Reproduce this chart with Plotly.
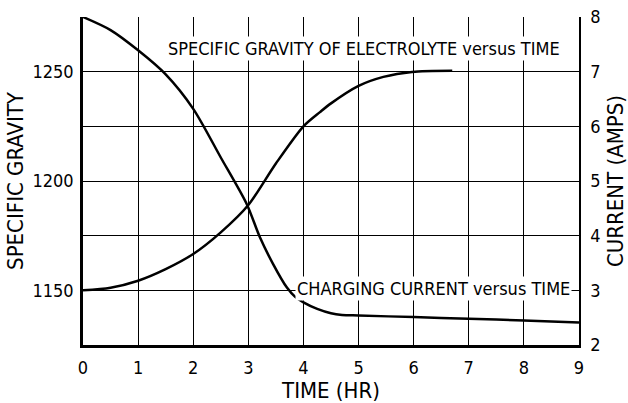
import plotly.graph_objects as go

# Specific gravity of electrolyte (left axis)
time_sg = [0, 0.5, 1, 1.5, 2, 2.5, 3, 3.5, 4, 4.3, 4.5, 5, 5.45, 5.97, 6.7]
specific_gravity = [1150, 1151.2, 1154.4, 1159.7, 1166.6, 1176.5, 1189, 1208, 1225, 1231.5, 1235.5, 1243.5, 1247.6, 1249.9, 1250.4]

# Charging current (right axis)
time_cur = [0, 0.5, 1, 1.5, 2, 2.5, 2.97, 3.21, 3.45, 3.7, 3.85, 4, 4.25, 4.5, 4.7, 5, 6, 7, 8, 9]
current = [8, 7.76, 7.39, 6.95, 6.32, 5.43, 4.58, 3.97, 3.48, 3.05, 2.88, 2.78, 2.66, 2.58, 2.55, 2.54, 2.51, 2.48, 2.45, 2.41]

x_ticks = list(range(0, 10))
sg_ticks = [1150, 1200, 1250]
cur_ticks = [2, 3, 4, 5, 6, 7, 8]

FONT = "Liberation Sans Narrow, Arial Narrow, DejaVu Sans Condensed, sans-serif"

fig = go.Figure()
fig.add_trace(go.Scatter(x=time_sg, y=specific_gravity, mode="lines",
                         line=dict(color="black", width=2.5, shape="spline", smoothing=0.8),
                         yaxis="y", showlegend=False))
fig.add_trace(go.Scatter(x=time_cur, y=current, mode="lines",
                         line=dict(color="black", width=2.5, shape="spline", smoothing=0.8),
                         yaxis="y2", showlegend=False))

fig.update_layout(
    width=628, height=403,
    margin=dict(l=83, r=49, t=17, b=58, autoexpand=False),
    paper_bgcolor="white", plot_bgcolor="white",
    font=dict(family=FONT, size=18, color="black"),
    xaxis=dict(range=[0, 9], tickvals=x_ticks, showgrid=True, gridcolor="black", gridwidth=1.3,
               showline=True, linecolor="black", linewidth=2.5, ticks="", zeroline=False,
               automargin=True, ticklabelstandoff=5, ticklabeloverflow="allow",
               title=dict(text="TIME (HR)", standoff=8)),
    yaxis=dict(range=[1125, 1275], tickvals=sg_ticks, showgrid=False, showline=True, linecolor="black",
               linewidth=2.5, ticks="", zeroline=False, automargin=True, ticklabelstandoff=3,
               ticklabeloverflow="allow", title=dict(text="SPECIFIC GRAVITY", standoff=3)),
    yaxis2=dict(range=[2, 8], tickvals=cur_ticks, overlaying="y", side="right", showgrid=True,
                gridcolor="black", gridwidth=1.3, showline=True, linecolor="black", linewidth=1.5,
                ticks="", zeroline=False, automargin=True, ticklabelstandoff=6,
                ticklabeloverflow="allow", title=dict(text="CURRENT (AMPS)", standoff=8)),
    annotations=[
        dict(x=5.09, y=7.43, xref="x", yref="y2", text="SPECIFIC GRAVITY OF ELECTROLYTE versus TIME",
             showarrow=False, bgcolor="white", borderpad=1, font=dict(size=18)),
        dict(x=6.36, y=3.03, xref="x", yref="y2", text="CHARGING CURRENT versus TIME",
             showarrow=False, bgcolor="white", borderpad=1, font=dict(size=18)),
    ],
)

fig.write_html("out.html", config={"displayModeBar": False},
               post_script="document.body.style.margin='0';")
